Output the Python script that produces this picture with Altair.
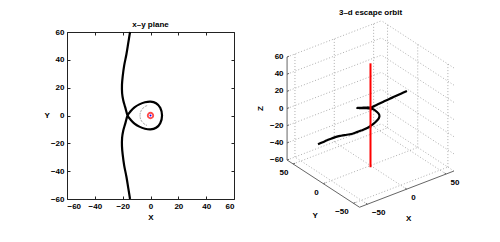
import numpy as np
import pandas as pd
import altair as alt

FONT = "Liberation Sans"

# ---------------- data ----------------
# x-y plane orbit, in path order
xy_x = [-14.7, -16.0, -17.3, -18.9, -20.0, -20.5, -20.4, -19.6, -18.2, -16.5,
        -14.3, -11.5, -8.0, -4.0, 0.0, 4.0, 7.0, 8.3, 7.0, 4.0, 0.0, -4.0, -8.0, -11.5, -14.3, -16.5,
        -18.2, -19.6, -20.4, -20.5, -20.0, -18.9, -17.3, -16.0, -14.7]
xy_y = [60, 52, 44, 36, 28, 22, 16, 11, 6, 0,
        -3, -5.8, -8, -9.5, -10, -8.8, -5.5, 0, 5.5, 8.8, 10, 9.5, 8, 5.8, 3, 0,
        -6, -11, -16, -22, -28, -36, -44, -52, -60]
xy_ticks = [-60, -40, -20, 0, 20, 40, 60]
centre_x = [0]
centre_y = [0]

# 3-d escape orbit, in path order
o3_x = [-13.0, -14.7, -16.0, -17.3, -18.9, -20.0, -20.5, -20.4, -19.6, -18.2, -16.5,
        -14.3, -11.5, -8.0, -4.0, 0.0, 4.0, 7.0, 8.3, 7.0, 4.0, 0.0, -4.0, -8.0, -11.5, -14.3, -16.5,
        -18.2, -19.6, -20.4, -20.5, -20.0, -18.9, -17.3, -16.0, -14.7, -13.5, -12.0]
o3_y = [70, 60, 52, 44, 36, 28, 22, 16, 11, 6, 0,
        -3, -5.8, -8, -9.5, -10, -8.8, -5.5, 0, 5.5, 8.8, 10, 9.5, 8, 5.8, 3, 0,
        -6, -11, -16, -22, -28, -36, -44, -52, -60, -68, -76]
o3_z = [-62.7, -55.2, -49.1, -43.2, -37.4, -31.9, -28.2, -24.7, -22.0, -19.4, -15.0,
        -12.9, -10.9, -8.7, -6.1, -3.7, -2.0, -1.1, -0.6, 0.8, 1.2, 2.1, 3.8, 6.0, 8.4, 10.6, 12.9,
        16.4, 19.2, 21.9, 24.9, 27.7, 34.1, 40.6, 47.0, 53.2, 59.6, 65.8]
axis_line_z = [-62, 59]          # red line along the z axis (x = y = 0)
ticks_xy3 = [-50, 0, 50]
ticks_z3 = [-60, -40, -20, 0, 20, 40, 60]
LIM3 = 60
AZ, EL = -37.5, 30


def fmt(v):
    return str(v).replace("-", "\u2212")


def project(x, y, z):
    a, e = np.radians(AZ), np.radians(EL)
    xn, yn, zn = (np.asarray(v, dtype=float) / (2 * LIM3) for v in (x, y, z))
    sx = np.cos(a) * xn + np.sin(a) * yn
    sy = -np.sin(e) * np.sin(a) * xn + np.sin(e) * np.cos(a) * yn + np.cos(e) * zn
    return sx, sy


# ---------------- left panel ----------------
df_xy = pd.DataFrame({"x": xy_x, "y": xy_y, "i": range(len(xy_x))})
df_c = pd.DataFrame({"x": centre_x, "y": centre_y})

sc = alt.Scale(domain=[-60, 60], nice=False, zero=False)


def ax2(orient, title=None, labels=True, **kw):
    return alt.Axis(orient=orient, values=xy_ticks, title=title, labels=labels, offset=-3,
                    tickSize=3, tickColor="#222", tickWidth=1, domain=False, grid=False,
                    labelFont=FONT, labelFontSize=8, labelFontWeight="bold", labelColor="#000",
                    labelPadding=3, titleFont=FONT, titleFontSize=8, titleFontWeight="bold",
                    titleColor="#000", **kw)


X2 = alt.X("x:Q", scale=sc, axis=ax2("bottom", "X", titlePadding=3))
Y2 = alt.Y("y:Q", scale=sc, axis=ax2("left", "Y", titleAngle=0, titleAlign="right",
                                       titleBaseline="middle", titlePadding=1))

orbit2 = alt.Chart(df_xy).mark_line(color="black", strokeWidth=2.2, interpolate="cardinal").encode(
    x=X2, y=Y2, order="i:Q")
ring = alt.Chart(df_c).mark_arc(filled=False, stroke="#8a8a8a", strokeWidth=1, strokeDash=[1, 2.5],
                                radius=10.5, radius2=10.5, theta=3.5, theta2=6.0).encode(x=X2, y=Y2)
star = alt.Chart(df_c).mark_point(shape="circle", filled=False, color="red", size=30,
                                  strokeWidth=1.8).encode(x=X2, y=Y2)
star_c = alt.Chart(df_c).mark_point(shape="circle", filled=True, color="blue", size=4,
                                    opacity=1).encode(x=X2, y=Y2)
main_left = alt.layer(ring, orbit2, star, star_c)

ticks_other = alt.Chart(df_c).mark_point(opacity=0).encode(
    x=alt.X("x:Q", scale=sc, axis=ax2("top", None, labels=False)),
    y=alt.Y("y:Q", scale=sc, axis=ax2("right", None, labels=False)),
)

left = alt.layer(main_left, ticks_other).resolve_axis(x="independent", y="independent").properties(
    width=167, height=167,
    title=alt.TitleParams("x\u2013y plane", font=FONT, fontSize=8, fontWeight="bold", color="#000",
                          anchor="middle", baseline="alphabetic", offset=-7),
    view=alt.ViewBackground(stroke="#222", strokeWidth=1),
)

# ---------------- right panel (3-d projection) ----------------
segs = []


def add_seg(kind, p0, p1, sid):
    sx, sy = project([p0[0], p1[0]], [p0[1], p1[1]], [p0[2], p1[2]])
    for k in range(2):
        segs.append({"seg": sid, "i": k, "sx": sx[k], "sy": sy[k], "kind": kind})


sid = 0
L = LIM3
for t in ticks_xy3:
    add_seg("grid", (t, -L, -L), (t, L, -L), sid); sid += 1     # floor, x ticks
    add_seg("grid", (-L, t, -L), (L, t, -L), sid); sid += 1     # floor, y ticks
    add_seg("grid", (t, L, -L), (t, L, L), sid); sid += 1      # back wall y=max
    add_seg("grid", (L, t, -L), (L, t, L), sid); sid += 1      # back wall x=max
for t in ticks_z3:
    add_seg("grid", (-L, L, t), (L, L, t), sid); sid += 1
    add_seg("grid", (L, -L, t), (L, L, t), sid); sid += 1
add_seg("axis", (-L, L, -L), (-L, L, L), sid); sid += 1
add_seg("axis", (-L, -L, -L), (-L, L, -L), sid); sid += 1
add_seg("axis", (-L, -L, -L), (L, -L, -L), sid); sid += 1
for t in ticks_z3:
    add_seg("axis", (-L, L, t), (-L + 2.5, L, t), sid); sid += 1
for t in ticks_xy3:
    add_seg("axis", (-L, t, -L), (-L + 2.5, t, -L), sid); sid += 1
    add_seg("axis", (t, -L, -L), (t, -L + 2.5, -L), sid); sid += 1
df_seg = pd.DataFrame(segs)

sx3, sy3 = project(o3_x, o3_y, o3_z)
df_o3 = pd.DataFrame({"sx": sx3, "sy": sy3, "i": range(len(o3_x))})
rsx, rsy = project([0, 0], [0, 0], axis_line_z)
df_red = pd.DataFrame({"sx": rsx, "sy": rsy, "i": [0, 1]})

zx, zy = project([-L] * len(ticks_z3), [L] * len(ticks_z3), ticks_z3)
df_zl = pd.DataFrame({"sx": zx, "sy": zy, "t": [fmt(v) for v in ticks_z3]})
yx, yy = project([-L] * 3, ticks_xy3, [-L] * 3)
df_yl = pd.DataFrame({"sx": yx, "sy": yy, "t": [fmt(v) for v in ticks_xy3]})
xx, xy_ = project(ticks_xy3, [-L] * 3, [-L] * 3)
df_xl = pd.DataFrame({"sx": xx, "sy": xy_, "t": [fmt(v) for v in ticks_xy3]})
tz = project([-L], [L], [0]); ty = project([-L], [0], [-L]); tx = project([0], [-L], [-L])
df_tz = pd.DataFrame({"sx": tz[0], "sy": tz[1], "t": ["Z"]})
df_ty = pd.DataFrame({"sx": ty[0], "sy": ty[1], "t": ["Y"]})
df_tx = pd.DataFrame({"sx": tx[0], "sy": tx[1], "t": ["X"]})

PXU = 119.0
RW, RH = 213, 167
xs3 = alt.Scale(domain=[-RW / 2 / PXU, RW / 2 / PXU], nice=False, zero=False)
ys3 = alt.Scale(domain=[-85 / PXU, 82 / PXU], nice=False, zero=False)
X3 = alt.X("sx:Q", scale=xs3, axis=None)
Y3 = alt.Y("sy:Q", scale=ys3, axis=None)

grid = alt.Chart(df_seg[df_seg.kind == "grid"]).mark_line(
    color="#9a9a9a", strokeWidth=0.8, strokeDash=[1, 2]).encode(x=X3, y=Y3, detail="seg:N", order="i:Q")
axl = alt.Chart(df_seg[df_seg.kind == "axis"]).mark_line(
    color="#666", strokeWidth=1).encode(x=X3, y=Y3, detail="seg:N", order="i:Q")
orb3 = alt.Chart(df_o3).mark_line(color="black", strokeWidth=2.2, interpolate="cardinal").encode(
    x=X3, y=Y3, order="i:Q")
red = alt.Chart(df_red).mark_line(color="red", strokeWidth=2).encode(x=X3, y=Y3, order="i:Q")

tstyle = dict(font=FONT, fontSize=8, fontWeight="bold", color="#000", baseline="middle")
zl = alt.Chart(df_zl).mark_text(align="right", dx=-3.5, **tstyle).encode(x=X3, y=Y3, text="t:N")
yl = alt.Chart(df_yl).mark_text(align="right", dx=-4.7, dy=9, **tstyle).encode(x=X3, y=Y3, text="t:N")
xl = alt.Chart(df_xl).mark_text(align="left", dx=4.5, dy=9, **tstyle).encode(x=X3, y=Y3, text="t:N")
zt = alt.Chart(df_tz).mark_text(align="center", angle=270, dy=-26, **tstyle).encode(x=X3, y=Y3, text="t:N")
yt = alt.Chart(df_ty).mark_text(align="center", dx=-8, dy=32.7, **tstyle).encode(x=X3, y=Y3, text="t:N")
xt = alt.Chart(df_tx).mark_text(align="center", dx=2, dy=30, **tstyle).encode(x=X3, y=Y3, text="t:N")

right = alt.layer(grid, axl, orb3, red, zl, yl, xl, zt, yt, xt).properties(
    width=RW, height=RH,
    title=alt.TitleParams("3\u2013d escape orbit", font=FONT, fontSize=8, fontWeight="bold",
                          color="#000", anchor="middle", baseline="alphabetic", offset=-3.6),
    view=alt.ViewBackground(strokeWidth=0),
)

chart = alt.hconcat(left, right, spacing=30, bounds="flush").properties(
    padding={"left": 35, "top": 0, "right": 0, "bottom": 0}
).configure_view(strokeWidth=0)

chart.save("out.html", embed_options={"renderer": "svg", "actions": False})
